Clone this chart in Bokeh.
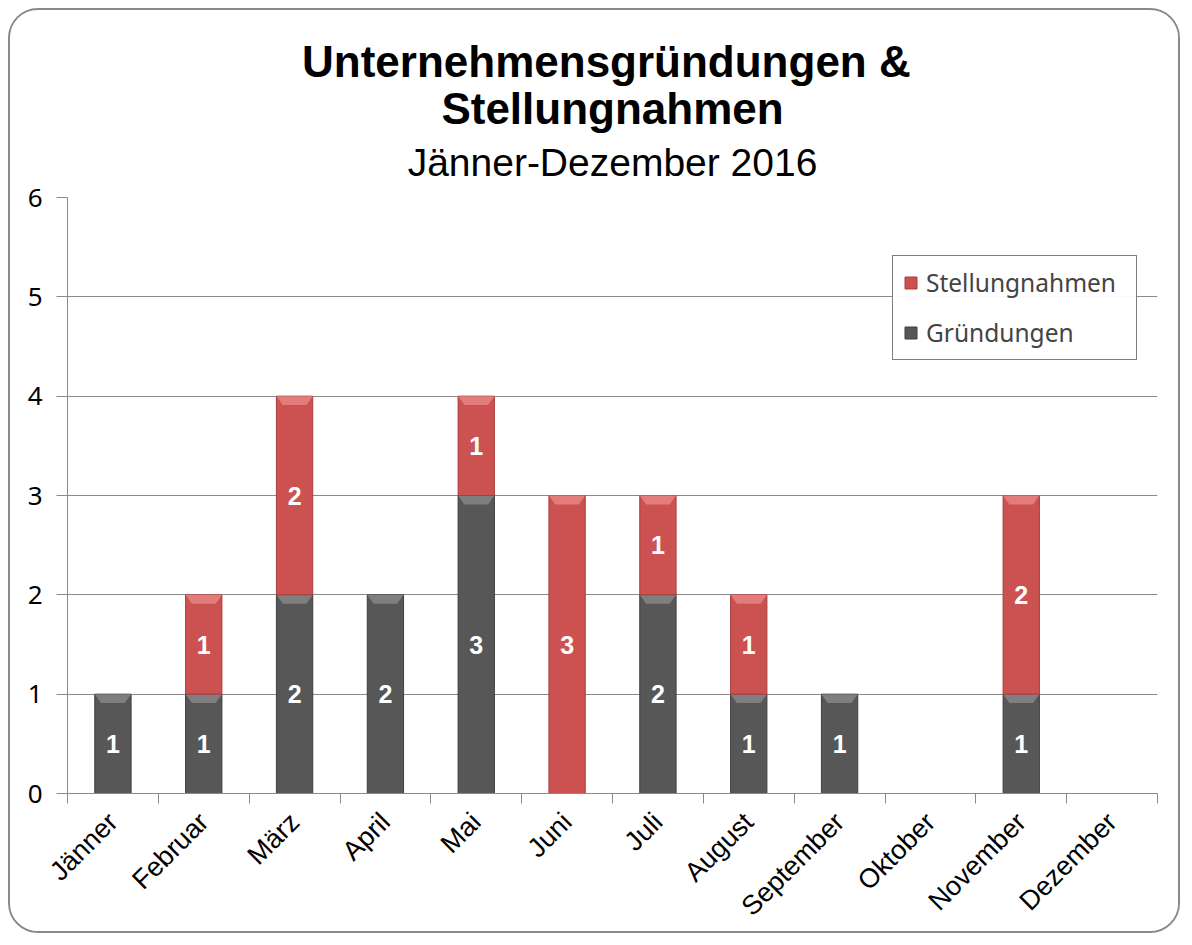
import math
from bokeh.plotting import figure
from bokeh.models import ColumnDataSource, FixedTicker, Legend, LegendItem, Range1d, Title
from bokeh.embed import file_html
from bokeh.resources import INLINE
from bokeh.core.properties import value

# ---------------- data ----------------
months = ["Jänner", "Februar", "März", "April", "Mai", "Juni", "Juli",
          "August", "September", "Oktober", "November", "Dezember"]
gruendungen = [1, 1, 2, 2, 3, 0, 2, 1, 1, 0, 1, 0]
stellungnahmen = [0, 1, 2, 0, 1, 3, 1, 1, 0, 0, 2, 0]
y_ticks = [0, 1, 2, 3, 4, 5, 6]

title_line1 = "Unternehmensgründungen  &"
title_line2 = "Stellungnahmen"
subtitle = "Jänner-Dezember 2016"

# ---------------- style ----------------
GREY = "#575757"
GREY_HI = "#7f7f7f"
RED = "#cb5250"
RED_HI = "#e27d7b"
AXIS = "#8a8a8a"
BAR_W = 0.4
BEV_DX = 0.07
BEV_DY = 0.09

centers = [i + 0.5 for i in range(len(months))]


def segments(bottoms, vals):
    d = dict(x=[], bottom=[], top=[], mid=[], label=[], bxs=[], bys=[])
    for x, b, v in zip(centers, bottoms, vals):
        if v == 0:
            continue
        t = b + v
        d["x"].append(x)
        d["bottom"].append(b)
        d["top"].append(t)
        d["mid"].append(b + v / 2)
        d["label"].append(str(v))
        d["bxs"].append([x - BAR_W / 2, x + BAR_W / 2, x + BAR_W / 2 - BEV_DX, x - BAR_W / 2 + BEV_DX])
        d["bys"].append([t, t, t - BEV_DY, t - BEV_DY])
    return ColumnDataSource(d)


src_g = segments([0] * len(months), gruendungen)
src_s = segments(gruendungen, stellungnahmen)

W, H = 1172, 925
p = figure(width=W, height=H, output_backend="svg", toolbar_location=None, title=None,
           x_range=Range1d(0, 12), y_range=Range1d(0, 6),
           min_border_left=57, min_border_right=25, min_border_top=187, min_border_bottom=142)
p.styles = {"border": "2px solid #8a8a8a", "border-radius": "30px", "overflow": "hidden",
            "background-color": "white", "margin-left": "8px", "margin-top": "8px"}
p.outline_line_color = None
p.background_fill_color = "white"
p.border_fill_color = "white"

r_g = p.vbar(x="x", bottom="bottom", top="top", width=BAR_W, source=src_g,
             fill_color=GREY, line_color="#3f3f3f", line_width=1)
p.patches(xs="bxs", ys="bys", source=src_g, fill_color=GREY_HI, line_color=None)
r_s = p.vbar(x="x", bottom="bottom", top="top", width=BAR_W, source=src_s,
             fill_color=RED, line_color="#a83e3d", line_width=1)
p.patches(xs="bxs", ys="bys", source=src_s, fill_color=RED_HI, line_color=None)

for src in (src_g, src_s):
    p.text(x="x", y="mid", text="label", source=src, text_align="center", text_baseline="middle",
           text_color="white", text_font=value("Liberation Sans"), text_font_style="bold",
           text_font_size="25px")

# axes
p.yaxis.ticker = FixedTicker(ticks=y_ticks)
p.yaxis.major_tick_out = 11
p.yaxis.major_tick_in = 0
p.yaxis.minor_tick_line_color = None
p.yaxis.axis_line_color = AXIS
p.yaxis.major_tick_line_color = AXIS
p.yaxis.major_label_text_font = "Noto Sans"
p.yaxis.major_label_text_font_size = "26px"
p.yaxis.major_label_text_color = "black"
p.yaxis.major_label_standoff = 14

p.xaxis.ticker = FixedTicker(ticks=centers, minor_ticks=list(range(len(months) + 1)))
p.xaxis.major_label_overrides = {c: m for c, m in zip(centers, months)}
p.xaxis.major_tick_out = 0
p.xaxis.major_tick_in = 0
p.xaxis.minor_tick_out = 10
p.xaxis.minor_tick_in = 0
p.xaxis.minor_tick_line_color = AXIS
p.xaxis.axis_line_color = AXIS
p.xaxis.major_label_orientation = math.pi / 4
p.xaxis.major_label_text_font = "Liberation Sans"
p.xaxis.major_label_text_font_size = "27px"
p.xaxis.major_label_text_color = "black"
p.xaxis.major_label_standoff = 14

p.xgrid.visible = False
p.ygrid.grid_line_color = AXIS
p.ygrid.grid_line_width = 1

# titles (added inner first)
p.add_layout(Title(text=subtitle, align="center", offset=-12, text_font="Liberation Sans",
                   text_font_style="normal", text_font_size="39px", text_color="black",
                   standoff=28), "above")
p.add_layout(Title(text=title_line2, align="center", offset=-12, text_font="Liberation Sans",
                   text_font_style="bold", text_font_size="44px", text_color="black",
                   standoff=-17), "above")
p.add_layout(Title(text=title_line1, align="center", offset=-12, text_font="Liberation Sans",
                   text_font_style="bold", text_font_size="44px", text_color="black",
                   standoff=9), "above")

legend = Legend(items=[LegendItem(label="Stellungnahmen", renderers=[r_s]),
                       LegendItem(label="Gründungen", renderers=[r_g])],
                location=(825, 433), border_line_color="black", border_line_width=1,
                label_text_font="Noto Sans", label_text_font_size="24.5px",
                glyph_width=15, glyph_height=15, spacing=17, padding=10, margin=0,
                label_standoff=8, label_width=200)
p.add_layout(legend)

open("out.html", "w").write(file_html(p, INLINE))
